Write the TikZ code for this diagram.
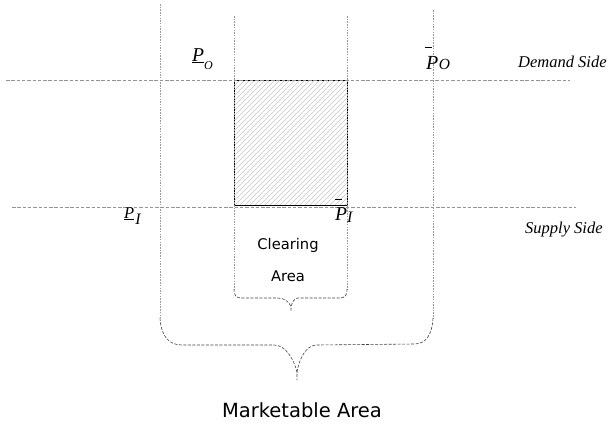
\documentclass[tikz,border=0pt]{standalone}
\usepackage{fontspec}
\setmainfont{Liberation Serif}
\newfontfamily\sansf{DejaVu Sans}
\begin{document}
\begin{tikzpicture}[x=1pt,y=-1pt,
  vline/.style={draw=gray!80, line width=0.6pt, dash pattern=on 1.5pt off 1.2pt},
  hline/.style={draw=gray!85, line width=0.8pt, dash pattern=on 3.5pt off 1.8pt},
  bracel/.style={draw=black!75, line width=0.6pt, dash pattern=on 3pt off 1.5pt},
  hatchl/.style={draw=gray!45, line width=0.6pt},
  lbl/.style={inner sep=0pt, anchor=base west},
  sidelbl/.style={inner sep=0pt, anchor=base west, font=\fontsize{16.5}{18}\selectfont\itshape},
  sanslbl/.style={inner sep=0pt, anchor=base, font=\sansf\fontsize{14.7}{16}\selectfont},
]
\useasboundingbox (0,0) rectangle (610,424);

% coordinates
\coordinate (v1t) at (160,4);   \coordinate (v1b) at (160,318);
\coordinate (v2t) at (234,16);  \coordinate (v2b) at (234,289);
\coordinate (v3t) at (347,16);  \coordinate (v3b) at (347,289);
\coordinate (v4t) at (433,10);  \coordinate (v4b) at (433,318);
\coordinate (dl) at (6,80);     \coordinate (dr) at (570,80);
\coordinate (sl) at (12,207);   \coordinate (sr) at (576,207);

% hatched square
\begin{scope}
  \clip (234,80) rectangle (347,205);
  \foreach \i in {-130,-125,...,350}
    \draw[hatchl] (\i,205) -- (\i+125,80);
\end{scope}
\node[draw=black, line width=0.8pt, inner sep=0pt, minimum width=113pt, minimum height=125pt, anchor=north west] (sq) at (234,80) {};

% vertical dotted lines
\draw[vline] (v1t) -- (v1b);
\draw[vline] (v2t) -- (v2b);
\draw[vline] (v3t) -- (v3b);
\draw[vline] (v4t) -- (v4b);

% horizontal dashed lines
\draw[hline] (dl) -- (dr);
\draw[hline] (sl) -- (sr);

% small brace
\coordinate (stip) at (291,311);
\draw[bracel] (v2b) .. controls (234,296) and (236,298) .. (242,298)
  -- (278,298) .. controls (285,298) and (290,303) .. (291,307) -- (stip);
\draw[bracel] (v3b) .. controls (347,296) and (345,298) .. (339,298)
  -- (298,298) .. controls (294,298) and (292,303) .. (291,307);

% big brace
\coordinate (btip) at (297,380);
\draw[bracel] (v1b) .. controls (161,335) and (168,345) .. (182,345)
  -- (274,345) .. controls (286,345) and (294,360) .. (297,372) -- (btip);
\draw[bracel] (v4b) .. controls (432,335) and (426,344) .. (414,344)
  -- (316,345) .. controls (305,346) and (299,360) .. (297,372);

% labels
\node[lbl] (po) at (192,61) {\fontsize{19.6}{20}\selectfont\itshape\underline{P}\raisebox{-8pt}{\fontsize{12}{12}\selectfont O}};
\node[lbl] (pbo) at (426,69) {\fontsize{20}{20}\selectfont\itshape\rlap{\hspace{-1pt}\raisebox{21pt}{\rule{7pt}{0.6pt}}}P\fontsize{15.5}{16}\selectfont\hspace{0.5pt}O};
\node[lbl] (pi) at (124,218) {\fontsize{16.5}{17}\selectfont\itshape\underline{P}\raisebox{-6pt}{\fontsize{16}{16}\selectfont \hspace{1pt}I}};
\node[lbl] (pbi) at (335,220) {\fontsize{19.6}{20}\selectfont\itshape\rlap{\hspace{0pt}\raisebox{20pt}{\rule{7pt}{0.6pt}}}P\raisebox{-2pt}{\fontsize{16}{16}\selectfont I}};

\node[sidelbl] (dem) at (518,67) {Demand Side};
\node[sidelbl] (sup) at (525,233) {Supply Side};

\node[sanslbl] (cl1) at (288,249) {Clearing};
\node[sanslbl] (cl2) at (288,281) {Area};
\node[inner sep=0pt, anchor=base, font=\sansf\fontsize{19.5}{21}\selectfont] (mk) at (302,417) {Marketable Area};
\end{tikzpicture}
\end{document}
